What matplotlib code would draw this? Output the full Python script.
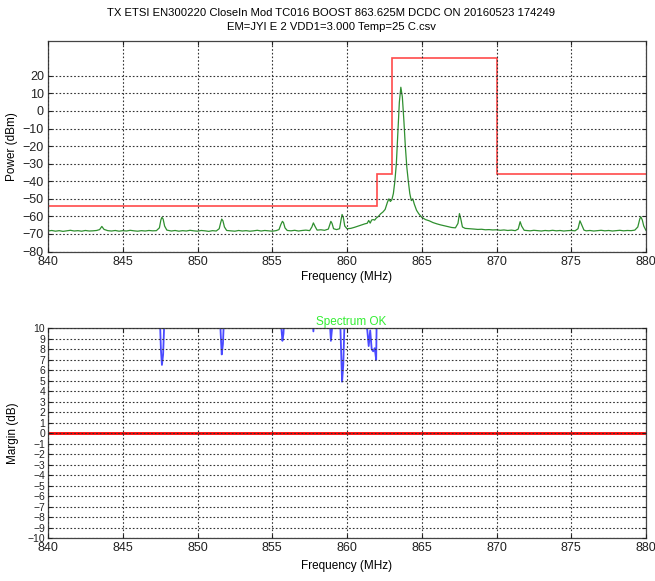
import numpy as np
import matplotlib
matplotlib.use("Agg")
import matplotlib.pyplot as plt

plt.rcParams['font.family'] = ['Liberation Sans', 'DejaVu Sans']

title_lines = ["TX ETSI EN300220 CloseIn Mod TC016 BOOST 863.625M DCDC ON 20160523 174249",
               "EM=JYI E 2 VDD1=3.000 Temp=25 C.csv"]

# measured spectrum (MHz, dBm)
freq_mhz = [
    840.00, 840.25, 840.50, 840.75, 841.00, 841.25, 841.50, 841.75, 842.00, 842.25,
    842.50, 842.75, 843.00, 843.25, 843.45, 843.60, 843.75, 844.00, 844.25, 844.50,
    844.75, 845.00, 845.25, 845.50, 845.75, 846.00, 846.25, 846.50, 846.75, 847.00,
    847.25, 847.45, 847.55, 847.62, 847.70, 847.80, 847.95, 848.25, 848.50, 848.75,
    849.00, 849.25, 849.50, 849.75, 850.00, 850.25, 850.50, 850.75, 851.00, 851.25,
    851.45, 851.55, 851.62, 851.70, 851.80, 851.95, 852.25, 852.50, 852.75, 853.00,
    853.25, 853.50, 853.75, 854.00, 854.25, 854.50, 854.75, 855.00, 855.25, 855.45,
    855.58, 855.68, 855.75, 855.85, 856.00, 856.25, 856.50, 856.75, 857.00, 857.25,
    857.50, 857.65, 857.75, 857.85, 858.00, 858.25, 858.50, 858.75, 858.85, 858.92,
    859.00, 859.10, 859.30, 859.50, 859.60, 859.67, 859.75, 859.85, 860.00, 860.25,
    860.50, 860.75, 861.00, 861.20, 861.35, 861.45, 861.55, 861.65, 861.75, 861.85,
    861.95, 862.10, 862.25, 862.40, 862.55, 862.70, 862.80, 862.90, 863.00, 863.10,
    863.20, 863.30, 863.40, 863.50, 863.60, 863.70, 863.80, 863.90, 864.00, 864.10,
    864.20, 864.30, 864.40, 864.50, 864.65, 864.80, 865.00, 865.25, 865.50, 865.75,
    866.00, 866.25, 866.50, 866.75, 867.00, 867.25, 867.42, 867.52, 867.60, 867.72,
    867.90, 868.25, 868.50, 868.75, 869.00, 869.25, 869.50, 869.75, 870.00, 870.25,
    870.50, 870.75, 871.00, 871.25, 871.45, 871.58, 871.68, 871.85, 872.00, 872.25,
    872.50, 872.75, 873.00, 873.25, 873.50, 873.75, 874.00, 874.25, 874.50, 874.75,
    875.00, 875.25, 875.45, 875.58, 875.68, 875.85, 876.00, 876.25, 876.50, 876.75,
    877.00, 877.25, 877.50, 877.75, 878.00, 878.25, 878.50, 878.75, 879.00, 879.25,
    879.45, 879.58, 879.65, 879.75, 879.85, 880.00,
]
power_dbm = [
    -68.3, -68.0, -68.4, -68.1, -68.5, -68.2, -67.9, -68.3, -68.1, -68.4,
    -68.0, -68.3, -68.2, -68.0, -67.5, -65.7, -67.4, -68.1, -68.3, -68.0,
    -68.4, -68.1, -68.3, -67.9, -68.2, -68.4, -68.1, -68.3, -68.0, -68.2,
    -68.1, -66.5, -62.0, -60.5, -61.5, -65.5, -67.8, -68.3, -68.0, -68.4,
    -68.1, -68.3, -67.9, -68.2, -68.4, -68.0, -68.2, -68.5, -68.1, -68.3,
    -67.0, -63.5, -61.5, -62.5, -66.0, -68.0, -68.2, -68.4, -68.0, -68.3,
    -68.1, -68.4, -68.2, -67.9, -68.3, -68.0, -68.2, -68.4, -68.1, -67.5,
    -64.5, -62.8, -63.5, -66.5, -68.0, -68.2, -67.9, -68.3, -68.0, -67.8,
    -68.1, -66.0, -63.7, -65.5, -67.8, -67.6, -67.9, -67.2, -64.5, -62.8,
    -64.0, -67.0, -67.5, -67.0, -62.0, -58.9, -60.5, -65.5, -67.0, -66.8,
    -66.2, -65.5, -64.8, -64.2, -63.9, -62.3, -63.8, -62.0, -61.8, -62.1,
    -61.0, -60.0, -58.5, -57.5, -56.0, -52.0, -50.0, -51.5, -50.5, -47.0,
    -40.0, -30.0, -12.0, 5.0, 13.5, 8.0, -5.0, -20.0, -32.0, -40.0,
    -47.0, -51.0, -50.0, -53.0, -56.5, -58.5, -60.5, -61.8, -62.5, -63.5,
    -64.2, -64.8, -65.3, -65.8, -66.3, -66.5, -64.0, -58.4, -61.0, -66.0,
    -66.8, -67.0, -67.2, -67.4, -67.3, -67.6, -67.5, -67.7, -67.6, -67.9,
    -67.7, -68.0, -67.8, -68.1, -67.2, -63.0, -65.5, -67.9, -68.0, -68.2,
    -67.9, -68.1, -68.3, -68.0, -68.2, -67.9, -68.2, -68.0, -68.3, -68.1,
    -68.0, -68.2, -67.0, -62.5, -64.5, -67.8, -68.2, -68.0, -68.3, -68.1,
    -67.9, -68.2, -68.0, -68.3, -68.1, -67.9, -68.2, -68.0, -68.1, -67.8,
    -66.0, -61.5, -60.2, -62.0, -65.5, -68.0,
]

# emission limit mask: band edges (MHz) and limit level inside each band (dBm)
mask_edges_mhz = [840, 862, 863, 870, 880]
mask_level_dbm = [-54, -36, 30, -36]

xticks = [840, 845, 850, 855, 860, 865, 870, 875, 880]
power_ticks = [-80, -70, -60, -50, -40, -30, -20, -10, 0, 10, 20]
margin_ticks = list(range(-10, 11))

f = np.array(freq_mhz)
p = np.array(power_dbm)
edges = np.array(mask_edges_mhz)
levels = np.array(mask_level_dbm)
band = np.clip(np.searchsorted(edges, f, side='right') - 1, 0, len(levels) - 1)
margin = levels[band] - p

fig = plt.figure(figsize=(6.55, 5.81), dpi=100)
ax1 = fig.add_axes([0.0733, 0.567, 0.913, 0.363])
ax2 = fig.add_axes([0.0733, 0.074, 0.913, 0.361])

grid_kw = dict(color='#333333', linestyle=(0, (1.5, 1.8)), linewidth=0.8)

for ax in (ax1, ax2):
    ax.set_xlim(840, 880)
    ax.set_xticks(xticks)
    ax.grid(True, **grid_kw)
    ax.tick_params(direction='in', length=3, labelsize=9, top=True, right=True,
                   colors='#222222', pad=3)
    for s in ax.spines.values():
        s.set_color('#444444')
        s.set_linewidth(0.9)
    ax.set_axisbelow(False)

# top panel
ax1.plot(f, p, color='#2f8f2f', linewidth=0.9)
ax1.stairs(levels, edges, color='#ff4a4a', linewidth=1.2, baseline=None)
ax1.set_ylim(-80, 40)
ax1.set_yticks(power_ticks)
ax1.set_xlabel('Frequency (MHz)', fontsize=8.5, labelpad=2)
ax1.set_ylabel('Power (dBm)', fontsize=8.5, labelpad=3)
fig.text(0.506, 0.986, title_lines[0], ha='center', va='top', fontsize=8.1)
fig.text(0.506, 0.962, title_lines[1], ha='center', va='top', fontsize=8.1)

# bottom panel
ax2.plot(f, margin, color='#4a4aff', linewidth=1.3)
ax2.axhline(0, color='#ff0000', linewidth=2)
ax2.set_ylim(-10, 10)
ax2.set_yticks(margin_ticks)
ax2.tick_params(axis='y', labelsize=7.5, pad=2)
ax2.set_xlabel('Frequency (MHz)', fontsize=8.5, labelpad=4)
ax2.set_ylabel('Margin (dB)', fontsize=8.5, labelpad=6)
ax2.text(0.507, 1.002, 'Spectrum OK', transform=ax2.transAxes, ha='center', va='bottom',
         color='#33ee33', fontsize=8.5)

fig.savefig('out.png', dpi=100)
